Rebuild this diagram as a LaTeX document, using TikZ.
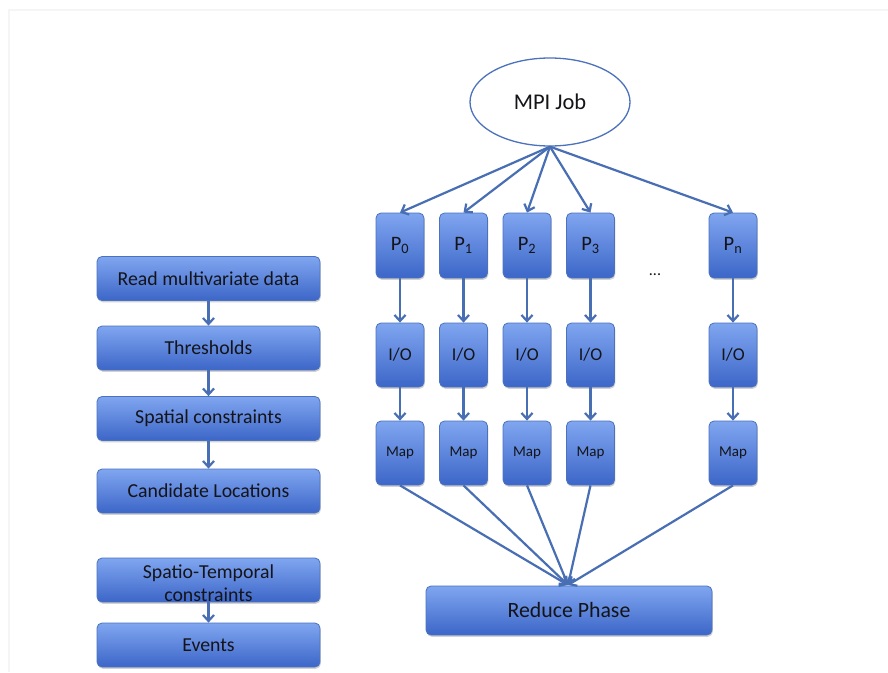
\documentclass[tikz,border=0pt]{standalone}
\usepackage{fontspec}
\setmainfont{Carlito}
\usetikzlibrary{shapes.geometric,shadows,arrows.meta}
\definecolor{boxtop}{RGB}{128,166,240}
\definecolor{boxbot}{RGB}{60,102,200}
\definecolor{boxline}{RGB}{76,114,190}
\definecolor{conncol}{RGB}{72,110,180}
\definecolor{txtcol}{RGB}{20,20,25}
\tikzset{
  box/.style={draw=boxline, line width=0.8pt, rounded corners=5pt,
    top color=boxtop, bottom color=boxbot, text=txtcol,
    drop shadow={shadow xshift=0.8pt, shadow yshift=-1.8pt, opacity=0.35},
    inner sep=0pt, align=center},
  leftbox/.style={box, minimum width=223pt, minimum height=44pt, font=\fontsize{19.8}{23}\selectfont},
  pbox/.style={box, minimum width=48pt, minimum height=65pt, font=\fontsize{20.5}{24}\selectfont},
  iobox/.style={box, minimum width=48pt, minimum height=64pt, font=\fontsize{18}{21}\selectfont},
  mapbox/.style={box, minimum width=48pt, minimum height=64pt, font=\fontsize{15}{18}\selectfont},
  conn/.style={draw=conncol, line width=2.2pt,
    -{Straight Barb[length=6pt, width=11pt, line width=2.2pt]}},
}
\begin{document}
\begin{tikzpicture}[x=1pt, y=-1pt]
\useasboundingbox[fill=white] (0,0) rectangle (888,672);
\draw[black!4, line width=1.5pt] (9,672) -- (9,10) -- (888,10);

% left column
\node[leftbox] (read) at (208.5,278.5) {Read multivariate data};
\node[leftbox] (thr) at (208.5,348) {Thresholds};
\node[leftbox] (spat) at (208.5,418.5) {Spatial constraints};
\node[leftbox] (cand) at (208.5,491) {Candidate Locations};
\node[leftbox, label={[name=spttxt, align=center, text=txtcol, yshift=-3.5pt,
  font=\fontsize{19.8}{23}\selectfont]center:Spatio-Temporal\\constraints}] (spt) at (208.5,580) {};
\node[leftbox] (events) at (208.5,645) {Events};
\draw[conn] (read) -- (thr);
\draw[conn] (thr) -- (spat);
\draw[conn] (spat) -- (cand);
\draw[conn] (spt) -- (events);

% MPI job
\node[draw=boxline, line width=1.3pt, fill=white, ellipse, minimum width=160pt,
  minimum height=88pt, inner sep=0pt, text=txtcol, font=\fontsize{22.5}{26}\selectfont]
  (mpi) at (550,102) {MPI Job};

\foreach \i/\x/\s in {0/400/0,1/463.5/1,2/527/2,3/590.5/3,n/733/n}{
  \node[pbox] (p\i) at (\x,245.5) {P$_{\mathrm{\s}}$};
  \node[iobox] (io\i) at (\x,355) {I/O};
  \node[mapbox] (m\i) at (\x,453) {Map};
  \draw[conn] (mpi.south) -- (p\i.north);
  \draw[conn] (p\i) -- (io\i);
  \draw[conn] (io\i) -- (m\i);
}
\node[text=txtcol, font=\fontsize{16}{18}\selectfont] (dots) at (655,275) {...};

% reduce
\node[box, minimum width=286pt, minimum height=49pt, font=\fontsize{21.8}{25}\selectfont]
  (reduce) at (569,610.5) {Reduce Phase};
\coordinate (conv) at (568,585);
\foreach \i in {0,1,2,3,n}{
  \draw[conn] (m\i.south) -- (conv);
}
\end{tikzpicture}
\end{document}
